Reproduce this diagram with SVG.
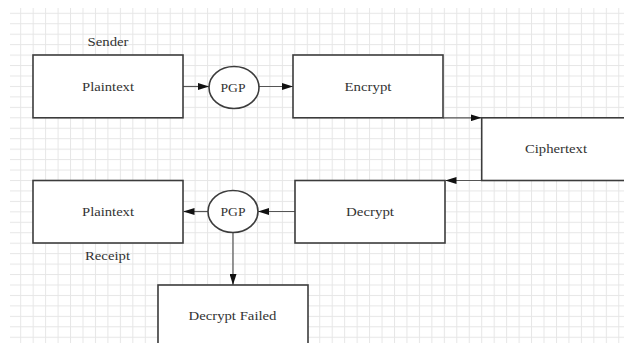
<svg xmlns="http://www.w3.org/2000/svg" width="624" height="343" viewBox="0 0 624 343">
  <style>
    .box { fill: #ffffff; stroke: #3c3c3c; stroke-width: 1.6; }
    .conn { fill: none; stroke: #555555; stroke-width: 1.2; marker-end: url(#arrow); }
    .lbl { font-family: "Liberation Serif", "Times New Roman", serif; font-size: 13px; fill: #333333; text-anchor: middle; }
  </style>
  <defs>
    <pattern id="grid" x="20.2" y="12.8" width="12.46" height="10.45" patternUnits="userSpaceOnUse">
      <rect x="0" y="0" width="1" height="10.45" fill="#e6e6e6"/>
      <rect x="0" y="0" width="12.46" height="1" fill="#e6e6e6"/>
    </pattern>
    <marker id="arrow" viewBox="0 0 11 7" refX="11" refY="3.5" markerWidth="11" markerHeight="7" markerUnits="userSpaceOnUse" orient="auto">
      <path d="M0,0 L11,3.5 L0,7 Z" fill="#111111"/>
    </marker>
  </defs>
  <rect width="624" height="343" fill="#ffffff"/>
  <rect x="10" y="8" width="614" height="335" fill="url(#grid)"/>

  <g id="connectors">
    <path class="conn" d="M183,86.5 H209"/>
    <path class="conn" d="M259,86.5 H293"/>
    <path class="conn" d="M443,117.8 H481.5"/>
    <path class="conn" d="M481.5,180.5 H445.5"/>
    <path class="conn" d="M295,211.5 H258"/>
    <path class="conn" d="M208,211.5 H183.5"/>
    <path class="conn" d="M233,233 V285"/>
  </g>

  <g id="sender-label">
    <text class="lbl" x="108" y="46" textLength="41" lengthAdjust="spacingAndGlyphs">Sender</text>
  </g>
  <g id="plaintext-sender">
    <rect class="box" x="33" y="55" width="150" height="62.8"/>
    <text class="lbl" x="108" y="91" textLength="52" lengthAdjust="spacingAndGlyphs">Plaintext</text>
  </g>
  <g id="pgp-encrypt">
    <ellipse class="box" cx="234" cy="87.5" rx="25" ry="21"/>
    <text class="lbl" x="233" y="91.5" textLength="25" lengthAdjust="spacingAndGlyphs">PGP</text>
  </g>
  <g id="encrypt">
    <rect class="box" x="293" y="55" width="150" height="62.8"/>
    <text class="lbl" x="368" y="91" textLength="47" lengthAdjust="spacingAndGlyphs">Encrypt</text>
  </g>
  <g id="ciphertext">
    <rect class="box" x="481.7" y="117.8" width="160" height="62.7"/>
    <text class="lbl" x="556" y="152.5" textLength="62" lengthAdjust="spacingAndGlyphs">Ciphertext</text>
  </g>
  <g id="decrypt">
    <rect class="box" x="295" y="180.5" width="150" height="62.5"/>
    <text class="lbl" x="370" y="215.5" textLength="48" lengthAdjust="spacingAndGlyphs">Decrypt</text>
  </g>
  <g id="pgp-decrypt">
    <ellipse class="box" cx="233" cy="211.5" rx="25" ry="21"/>
    <text class="lbl" x="233" y="215.5" textLength="25" lengthAdjust="spacingAndGlyphs">PGP</text>
  </g>
  <g id="plaintext-receipt">
    <rect class="box" x="33" y="180.5" width="150" height="62.5"/>
    <text class="lbl" x="108" y="215.5" textLength="52" lengthAdjust="spacingAndGlyphs">Plaintext</text>
  </g>
  <g id="receipt-label">
    <text class="lbl" x="107.5" y="260" textLength="45" lengthAdjust="spacingAndGlyphs">Receipt</text>
  </g>
  <g id="decrypt-failed">
    <rect class="box" x="158" y="285" width="150" height="70"/>
    <text class="lbl" x="232.5" y="320" textLength="88" lengthAdjust="spacingAndGlyphs">Decrypt Failed</text>
  </g>
</svg>
